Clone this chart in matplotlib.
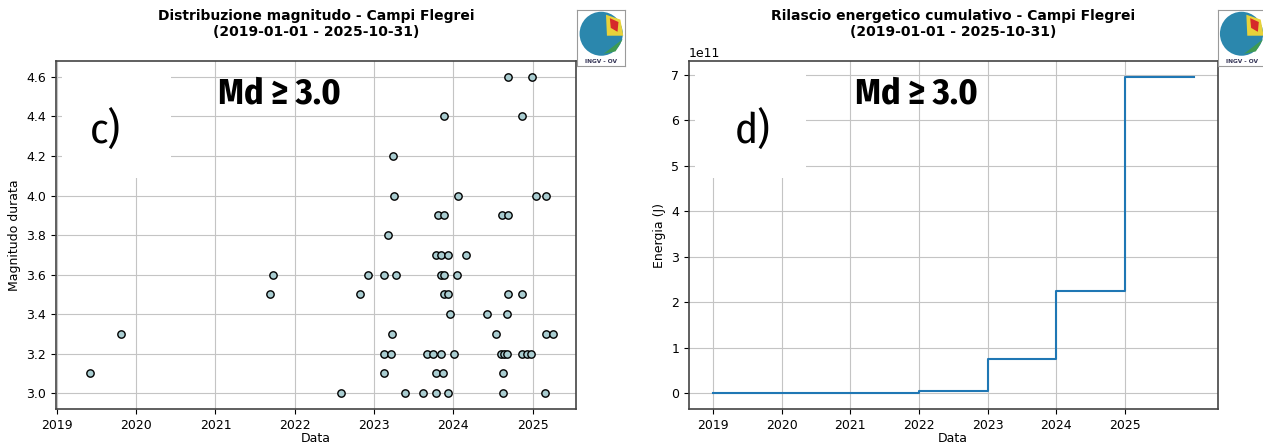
import numpy as np
import pandas as pd
import matplotlib
matplotlib.use("Agg")
import matplotlib.pyplot as plt
import matplotlib.dates as mdates
from matplotlib.patches import Rectangle, Circle, Polygon

# eventi Md >= 3.0 (data, magnitudo)
ev_date = [
    "2019-06-03", "2019-10-23", "2021-09-09", "2021-09-24", "2022-08-04",
    "2022-10-30", "2022-12-06", "2023-02-16", "2023-02-16", "2023-02-16",
    "2023-03-08", "2023-03-20", "2023-03-26", "2023-03-28", "2023-04-03",
    "2023-04-12", "2023-05-23", "2023-08-15", "2023-09-01", "2023-09-30",
    "2023-10-11", "2023-10-11", "2023-10-13", "2023-10-20", "2023-11-04",
    "2023-11-04", "2023-11-07", "2023-11-15", "2023-11-17", "2023-11-18",
    "2023-11-20", "2023-11-20", "2023-12-08", "2023-12-08", "2023-12-08",
    "2023-12-16", "2024-01-02", "2024-01-17", "2024-01-23", "2024-02-29",
    "2024-06-04", "2024-07-17", "2024-08-06", "2024-08-11", "2024-08-18",
    "2024-08-18", "2024-08-23", "2024-09-03", "2024-09-04", "2024-09-10",
    "2024-09-10", "2024-09-10", "2024-11-10", "2024-11-10", "2024-11-14",
    "2024-12-03", "2024-12-22", "2024-12-28", "2025-01-13", "2025-02-26",
    "2025-02-28", "2025-03-01", "2025-04-03",
]
ev_mag = [
    3.1, 3.3, 3.5, 3.6, 3.0,
    3.5, 3.6, 3.6, 3.2, 3.1,
    3.8, 3.2, 3.3, 4.2, 4.0,
    3.6, 3.0, 3.0, 3.2, 3.2,
    3.7, 3.1, 3.0, 3.9, 3.2,
    3.6, 3.7, 3.1, 3.6, 4.4,
    3.9, 3.5, 3.7, 3.5, 3.0,
    3.4, 3.2, 3.6, 4.0, 3.7,
    3.4, 3.3, 3.2, 3.9, 3.1,
    3.0, 3.2, 3.4, 3.2, 4.6,
    3.9, 3.5, 4.4, 3.2, 3.5,
    3.2, 3.2, 4.6, 4.0, 3.0,
    3.3, 4.0, 3.3,
]

# energia cumulativa (J) per anno
en_date = ["2019-01-01", "2020-01-01", "2021-01-01", "2022-01-01",
           "2023-01-01", "2024-01-01", "2025-01-01", "2025-12-31"]
en_cum = [0.002e11, 0.01e11, 0.012e11, 0.06e11,
          0.75e11, 2.24e11, 6.95e11, 6.95e11]

years = [2019, 2020, 2021, 2022, 2023, 2024, 2025]
periodo = "(2019-01-01 - 2025-10-31)"

ev_date = pd.to_datetime(ev_date)
en_date = pd.to_datetime(en_date)
year_ticks = pd.to_datetime([f"{y}-01-01" for y in years])

plt.rcParams['font.family'] = 'DejaVu Sans'
plt.rcParams['font.size'] = 9
big_font = ['Liberation Sans Narrow', 'Fira Sans Condensed', 'DejaVu Sans']

fig = plt.figure(figsize=(12.63, 4.46), dpi=100)
ax1 = fig.add_axes([0.0443, 0.083, 0.4117, 0.780])
ax2 = fig.add_axes([0.5455, 0.083, 0.4185, 0.780])


def box_label(ax, lettera, xl):
    # riquadro bianco con lettera e soglia di magnitudo
    ax.add_patch(Rectangle((0.012, 0.665), 0.21, 0.34, transform=ax.transAxes,
                           facecolor='white', edgecolor='none', zorder=2))
    ax.text(xl, 0.80, lettera, transform=ax.transAxes, ha='center', va='center',
            fontsize=31, family=big_font, zorder=4)
    ax.text(0.43, 0.905, "Md \u2265 3.0", transform=ax.transAxes, ha='center', va='center',
            fontsize=26, fontweight='bold', family=big_font, zorder=4)


def logo(x0):
    la = fig.add_axes([x0, 0.852, 0.038, 0.126])
    la.set_xlim(0, 1)
    la.set_ylim(0, 1.15)
    la.set_xticks([])
    la.set_yticks([])
    for s in la.spines.values():
        s.set_color('#9a9a9a')
        s.set_linewidth(0.8)
    la.add_patch(Circle((0.5, 0.66), 0.45, facecolor='#2b87ad', edgecolor='none'))
    la.add_patch(Polygon([[0.55, 0.25], [0.95, 0.55], [0.8, 0.3]], facecolor='#3f9a52'))
    la.add_patch(Polygon([[0.6, 1.05], [0.9, 0.95], [0.96, 0.62], [0.62, 0.62]],
                         facecolor='#e8d23a'))
    la.add_patch(Polygon([[0.68, 0.98], [0.86, 0.9], [0.84, 0.7], [0.7, 0.78]],
                         facecolor='#d62a2a'))
    la.text(0.5, 0.1, "INGV - OV", ha='center', va='center', fontsize=4.2,
            color='#333355', fontweight='bold')


# c) distribuzione magnitudo
ax1.scatter(ev_date, ev_mag, s=28, facecolor='#a9cdd1', edgecolor='black',
            linewidth=1.0, zorder=3)
ax1.set_xlim(pd.Timestamp("2018-12-29"), pd.Timestamp("2025-07-18"))
ax1.set_xticks(year_ticks)
ax1.xaxis.set_major_formatter(mdates.DateFormatter('%Y'))
ax1.grid(True, color='#c4c4c4', linewidth=0.8)
ax1.set_xlabel("Data", labelpad=0)
ax1.set_ylabel("Magnitudo durata")
ax1.set_title("Distribuzione magnitudo - Campi Flegrei\n" + periodo,
              fontsize=10, fontweight='bold', pad=18)
box_label(ax1, "c)", 0.096)

# d) rilascio energetico cumulativo
ax2.plot(en_date, en_cum, drawstyle='steps-post', color='#1f77b4', linewidth=1.5)
ax2.set_xticks(year_ticks)
ax2.xaxis.set_major_formatter(mdates.DateFormatter('%Y'))
ax2.grid(True, color='#c4c4c4', linewidth=0.8)
ax2.set_xlabel("Data", labelpad=0)
ax2.set_ylabel("Energia (J)")
ax2.set_title("Rilascio energetico cumulativo - Campi Flegrei\n" + periodo,
              fontsize=10, fontweight='bold', pad=18)
box_label(ax2, "d)", 0.12)

for ax in (ax1, ax2):
    for s in ax.spines.values():
        s.set_color('#444444')
        s.set_linewidth(1.2)

logo(0.457)
logo(0.964)

fig.savefig("out.png", dpi=100)
